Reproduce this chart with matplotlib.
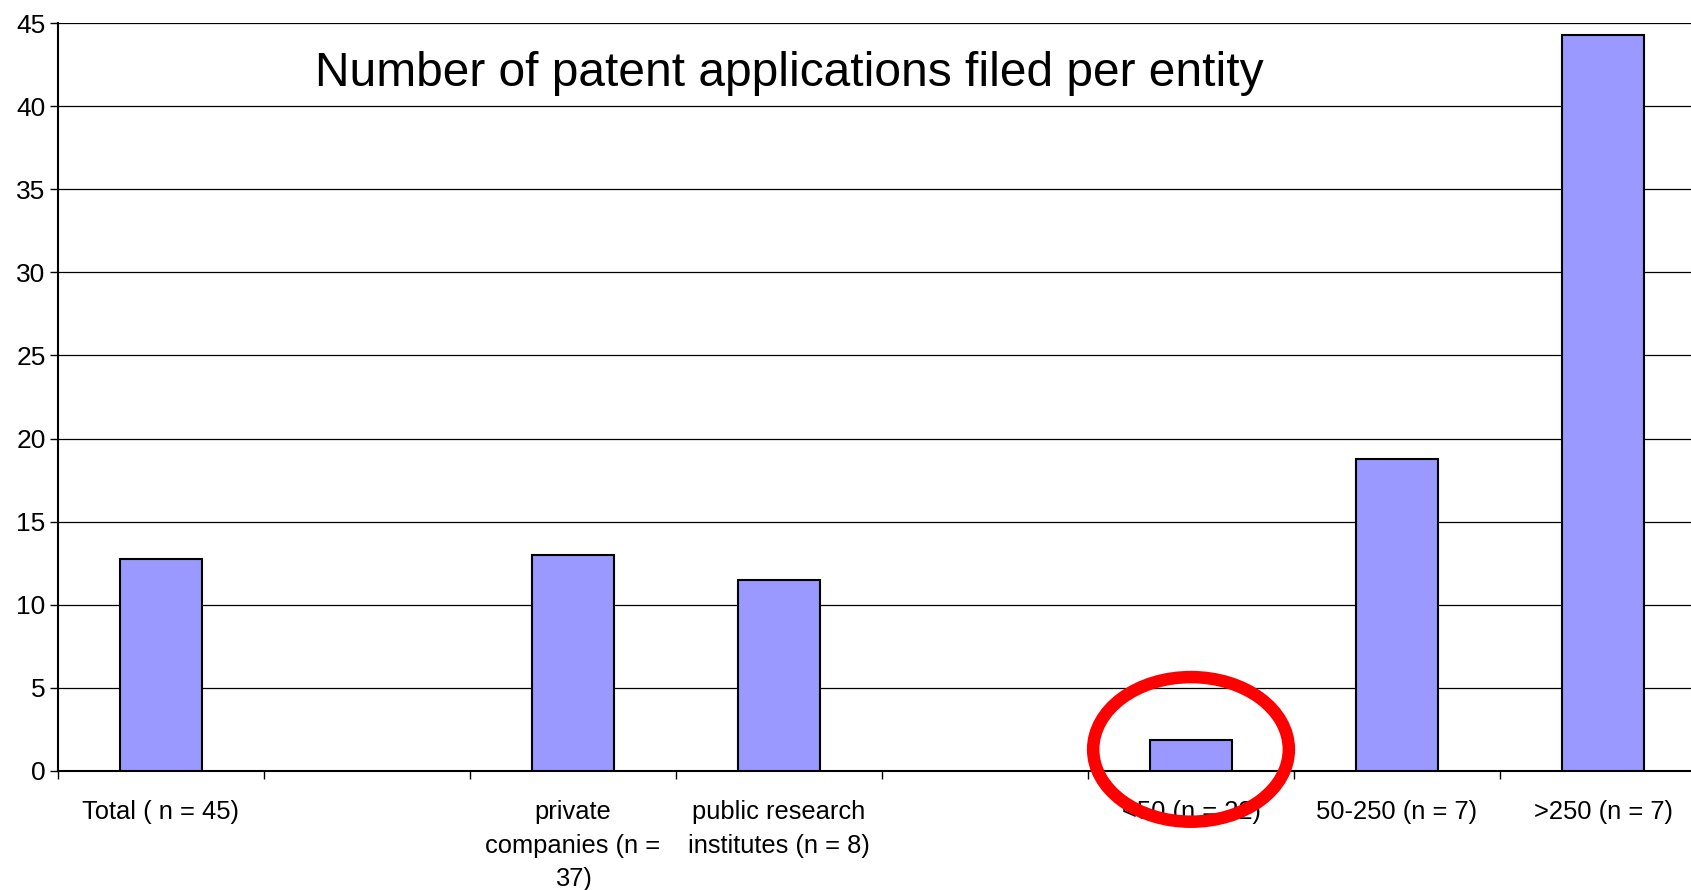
import matplotlib
matplotlib.use("Agg")
import matplotlib.pyplot as plt
from matplotlib.patches import Ellipse
import numpy as np

plt.rcParams['font.family'] = ['Liberation Sans', 'DejaVu Sans']

categories = ["Total ( n = 45)", "", "private\ncompanies (n =\n37)",
              "public research\ninstitutes (n = 8)", "", "<50 (n = 22)",
              "50-250 (n = 7)", ">250 (n = 7)"]
values = [12.75, None, 13.0, 11.5, None, 1.85, 18.8, 44.3]
title = "Number of patent applications filed per entity"
yticks = [0, 5, 10, 15, 20, 25, 30, 35, 40, 45]

fig = plt.figure(figsize=(16.91, 8.90), dpi=100)
ax = fig.add_axes([58/1691, 119/890, 1648/1691, 748/890])

xs = [i for i, v in enumerate(values) if v is not None]
vs = [v for v in values if v is not None]
ax.bar(xs, vs, width=0.4, color="#9999FF", edgecolor="black", linewidth=1.5, zorder=3)

ax.set_xlim(-0.5, len(categories) - 0.5)
ax.set_ylim(0, 45)
ax.set_yticks(yticks)
ax.set_yticklabels([str(t) for t in yticks], fontsize=19)
ax.yaxis.grid(True, color="black", linewidth=0.9, zorder=0)
ax.set_axisbelow(True)

ax.set_xticks(range(len(categories)))
ax.set_xticklabels(categories, fontsize=18.4, linespacing=1.5, va="top")
ax.tick_params(axis="x", which="major", length=0, pad=21)
ax.set_xticks(np.arange(-0.5, len(categories) + 0.5, 1), minor=True)
ax.tick_params(axis="x", which="minor", length=6, width=1, direction="out")
ax.tick_params(axis="y", length=6, width=1, direction="out", pad=3)

for s in ["top", "right"]:
    ax.spines[s].set_visible(False)
ax.spines["left"].set_linewidth(1.5)
ax.spines["bottom"].set_linewidth(1.5)

fig.text(789/1691, 1 - 74/890, title, fontsize=34.5, ha="center", va="center")

ell = Ellipse((5, 1.3), width=0.95, height=8.7, fill=False, edgecolor="#FF0000",
              linewidth=9, clip_on=False, zorder=5)
ax.add_patch(ell)

fig.savefig("out.png", dpi=100)
